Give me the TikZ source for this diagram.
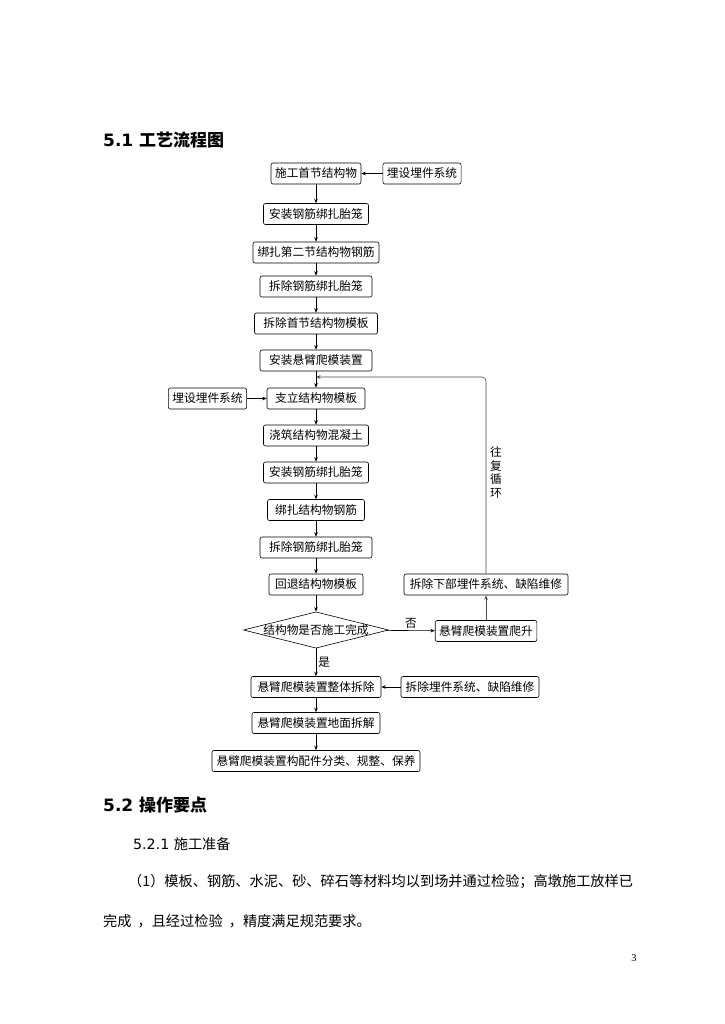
\documentclass[tikz,border=0pt]{standalone}
\usepackage{fontspec}
\setmainfont{DejaVu Sans}
\newfontfamily\cjk{Noto Sans CJK SC}
\newfontfamily\pagenumfont{Liberation Serif}
\usepackage{tikz}
\usetikzlibrary{positioning, arrows.meta, shapes.geometric}

\newcommand\boxfont{\cjk\fontsize{11.7}{14}\selectfont}

\begin{document}
\begin{tikzpicture}[
      x=1pt, y=-1pt,
      every node/.style={inner sep=0pt},
      task/.style={draw, rounded corners=2pt, font=\boxfont, inner xsep=4pt,
                  minimum height=21pt, line width=0.6pt},
      check/.style={draw, diamond, aspect=4, font=\boxfont, inner xsep=-2pt,
                  inner ysep=0pt, line width=0.6pt},
      tag/.style={font=\boxfont},
      flow/.style={draw, line width=0.6pt, -{Stealth[length=4.5pt, width=3.5pt]}},
      back/.style={flow, black!70, rounded corners=4pt},
      heading/.style={anchor=west, font=\bfseries\fontsize{17}{20}\selectfont},
      para/.style={anchor=west, font=\fontsize{14.2}{17}\selectfont},
   ]
   \useasboundingbox[fill=white] (0,0) rectangle (724,1024);

   % headings and text
   \node[heading] (head1) at (103,140) {5.1 {\cjk 工艺流程图}};
   \node[heading] (head2) at (103,805) {5.2 {\cjk 操作要点}};
   \node[para] (head3) at (133,844) {5.2.1 {\cjk 施工准备}};
   \node[para] (line1) at (128,882) {\cjk （1）模板、钢筋、水泥、砂、碎石等材料均以到场并通过检验；高墩施工放样已};
   \node[para] (line2) at (103,921) {\cjk 完成\kern6pt，且经过检验\kern6pt，精度满足规范要求。};
   \node[font=\pagenumfont\fontsize{10.5}{12}\selectfont] (pageno) at (634,958) {3};

   % main column
   \node[task, minimum width=90pt] (first) at (316,173.5) {施工首节结构物};
   \node[task, minimum width=76pt] (embedA) at (422,173.5) {埋设埋件系统};
   \node[task, minimum width=105pt] (cageA) at (316,214) {安装钢筋绑扎胎笼};
   \node[task, minimum width=126pt] (rebarA) at (316,252.5) {绑扎第二节结构物钢筋};
   \node[task, minimum width=112pt] (uncageA) at (316,286.5) {拆除钢筋绑扎胎笼};
   \node[task, minimum width=123pt] (unform) at (316,323.5) {拆除首节结构物模板};
   \node[task, minimum width=112pt] (mount) at (316,360.5) {安装悬臂爬模装置};
   \node[task, minimum width=98pt] (form) at (316,398.5) {支立结构物模板};
   \node[task, minimum width=75pt] (embedB) at (207.5,398.5) {埋设埋件系统};
   \node[task, minimum width=105pt] (pour) at (316,435.5) {浇筑结构物混凝土};
   \node[task, minimum width=105pt] (cageB) at (316,472.5) {安装钢筋绑扎胎笼};
   \node[task, minimum width=97pt] (rebarB) at (316,510) {绑扎结构物钢筋};
   \node[task, minimum width=112pt] (uncageB) at (316,547.5) {拆除钢筋绑扎胎笼};
   \node[task, minimum width=94pt] (retreat) at (316,584.5) {回退结构物模板};
   \node[check] (done) at (316,630) {结构物是否施工完成};
   \node[task, minimum width=130pt] (dismantle) at (316,687) {悬臂爬模装置整体拆除};
   \node[task, minimum width=128pt] (ground) at (316,723) {悬臂爬模装置地面拆解};
   \node[task, minimum width=208pt] (sort) at (316,761) {悬臂爬模装置构配件分类、规整、保养};

   % right branch
   \node[task, minimum width=164pt] (repairA) at (486,584.5) {拆除下部埋件系统、缺陷维修};
   \node[task, minimum width=101pt] (climb) at (486,631) {悬臂爬模装置爬升};
   \node[task, minimum width=138pt] (repairB) at (470,687) {拆除埋件系统、缺陷维修};
   \node[tag, align=center] (cycle) at (496,472.5) {往\\[-0.3pt]复\\[-0.3pt]循\\[-0.3pt]环};
   \coordinate (join) at (316,377);

   \draw[flow] (embedA) -- (first);
   \draw[flow] (first) -- (cageA);
   \draw[flow] (cageA) -- (rebarA);
   \draw[flow] (rebarA) -- (uncageA);
   \draw[flow] (uncageA) -- (unform);
   \draw[flow] (unform) -- (mount);
   \draw[flow] (mount) -- (form);
   \draw[flow] (embedB) -- (form);
   \draw[flow] (form) -- (pour);
   \draw[flow] (pour) -- (cageB);
   \draw[flow] (cageB) -- (rebarB);
   \draw[flow] (rebarB) -- (uncageB);
   \draw[flow] (uncageB) -- (retreat);
   \draw[flow] (retreat) -- (done);
   \draw[flow] (done) -- node[tag, right=2pt] {是} (dismantle);
   \draw[flow] (done) -- node[tag, above=2pt] {否} (climb);
   \draw[flow] (repairB) -- (dismantle);
   \draw[flow] (dismantle) -- (ground);
   \draw[flow] (ground) -- (sort);
   \draw[flow, black!70] (climb) -- (repairA);
   \draw[back] (repairA) |- (join);
\end{tikzpicture}
\end{document}
